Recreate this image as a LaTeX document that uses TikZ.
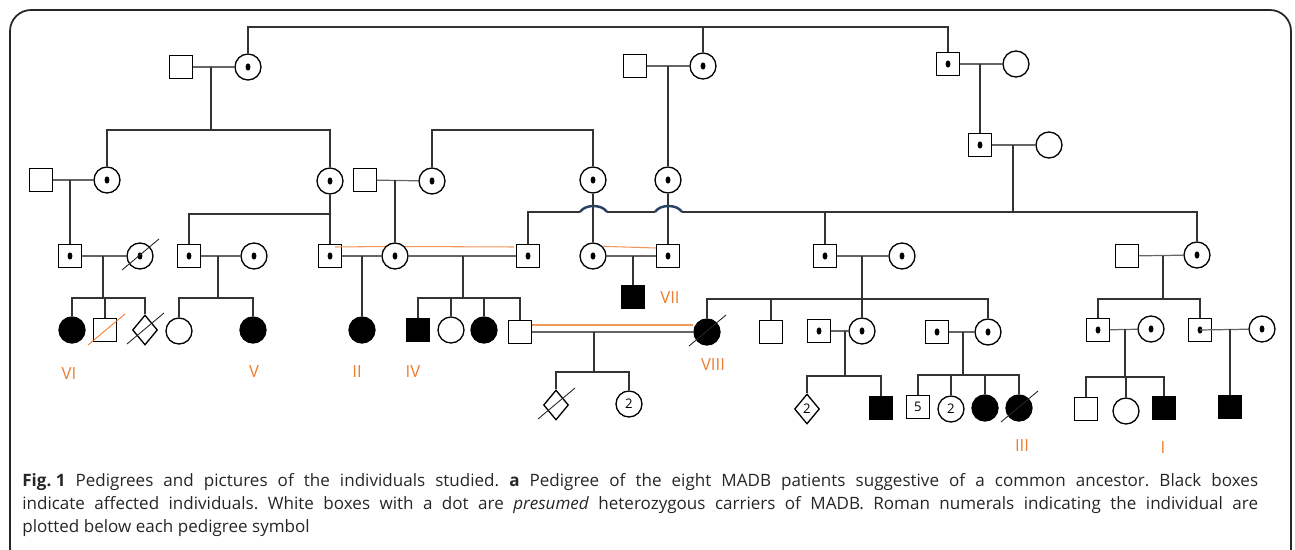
\documentclass[tikz,border=0pt]{standalone}
\usepackage{fontspec}
\setmainfont{Open Sans}
\setsansfont{Open Sans}
\usepackage{tikz}
\usetikzlibrary{shapes.geometric, positioning}
\definecolor{numcol}{RGB}{238,125,49}
\definecolor{hopcol}{RGB}{40,66,100}
\tikzset{
  person/.style={draw, line width=0.75pt, inner sep=0pt, fill=white, font=\fontsize{7.5}{8}\selectfont},
  male/.style={person, rectangle, minimum size=0.46cm},
  female/.style={person, circle, minimum size=0.52cm},
  unknown/.style={person, diamond, minimum width=0.5cm, minimum height=0.6cm},
  carrier/.style={path picture={\fill [black] (path picture bounding box.center) ellipse [x radius=1.4pt, y radius=2.05pt];}},
  affected/.style={fill=black},
  numeral/.style={text=numcol, font=\fontsize{9.5}{10}\selectfont},
  link/.style={draw=black!80, line width=0.6pt},
  mate/.style={draw=black!60, line width=0.7pt},
  consang/.style={draw=numcol!80, line width=0.6pt},
  hop/.style={draw=hopcol, line width=1.4pt},
  captext/.style={anchor=base west, inner sep=0pt, text=black!85, font=\fontsize{9.7}{12}\selectfont\frenchspacing}
}

\begin{document}
\begin{tikzpicture} [x = 0.02cm, y = -0.02cm, font = \sffamily]
\useasboundingbox (0,0) rectangle (1295,550);
\draw [line width=1pt, black!85, rounded corners=12] (10,552) -- (10,10) -- (1291,10) -- (1291,552);

% generation I
\node (A1) [male] at (181,67) {};
\node (A2) [female, carrier] at (248,67) {};
\node (B1) [male] at (635,66) {};
\node (B2) [female, carrier] at (703,66) {};
\node (C1) [male, carrier] at (948,64) {};
\node (C2) [female] at (1016,64) {};
\node (C3) [male, carrier] at (980,145) {};
\node (C4) [female] at (1049,145) {};

% generation II
\node (D1) [male] at (41,180) {};
\node (D2) [female, carrier] at (107,180) {};
\node (D3) [female, carrier] at (330,181) {};
\node (D4) [male] at (365,180) {};
\node (D5) [female, carrier] at (432,181) {};
\node (D6) [female, carrier] at (593,180) {};
\node (B3) [female, carrier] at (668,180) {};

% generation III
\node (E1) [male, carrier] at (70,256) {};
\node (E2) [female, carrier] at (140,256) {};
\node (E3) [male, carrier] at (189,256) {};
\node (E3w) [female, carrier] at (254,256) {};
\node (E4) [male, carrier] at (330,256) {};
\node (E4w) [female, carrier] at (395,256) {};
\node (E5) [male, carrier] at (528,256) {};
\node (E6) [female, carrier] at (593,256) {};
\node (E7) [male, carrier] at (668,256) {};
\node (E8) [male, carrier] at (825,256) {};
\node (E8w) [female, carrier] at (902,256) {};
\node (E10) [male] at (1127,256) {};
\node (E11) [female, carrier] at (1197,255) {};

% generation IV
\node (F1) [female, affected] at (72,330) {};
\node (F2) [male] at (105,330) {};
\node (F3) [unknown] at (145,330) {};
\node (F4) [female] at (179,331) {};
\node (F5) [female, affected] at (253,330) {};
\node (F6) [female, affected] at (362,330) {};
\node (G1) [male, affected] at (418,330) {};
\node (G2) [female] at (451,330) {};
\node (G3) [female, affected] at (484,330) {};
\node (G4) [male] at (520,332) {};
\node (VII) [male, affected] at (633,297) {};
\node (H1) [female, affected] at (707,332) {};
\node (H2) [male] at (771,332) {};
\node (H3) [male, carrier] at (819,331) {};
\node (H4) [female, carrier] at (862,331) {};
\node (H5) [male, carrier] at (937,332) {};
\node (H6) [female, carrier] at (988,332) {};
\node (J1) [male, carrier] at (1098,330) {};
\node (J2) [female, carrier] at (1151,329) {};
\node (K1) [male, carrier] at (1200,330) {};
\node (K2) [female, carrier] at (1262,329) {};

% generation V
\node (L1) [unknown] at (556,405) {};
\node (L2) [female] at (629,404) {2};
\node (M1) [unknown] at (807,409) {2};
\node (M2) [male, affected] at (881,408) {};
\node (N1) [male] at (918,407) {5};
\node (N2) [female] at (951,409) {2};
\node (N3) [female, affected] at (985,408) {};
\node (N4) [female, affected] at (1019,408) {};
\node (P1) [male] at (1086,409) {};
\node (P2) [female] at (1126,411) {};
\node (P3) [male, affected] at (1164,408) {};
\node (Q1) [male, affected] at (1230,407) {};

% junctions
\coordinate (top) at (703,27);
\coordinate (a12) at (211,67);   \coordinate (sa) at (211,130);
\coordinate (b12) at (668,66);
\coordinate (c12) at (980,64);
\coordinate (c34) at (1013,145); \coordinate (sc) at (1013,212);
\coordinate (d12) at (70,180);
\coordinate (d45) at (395,180);
\coordinate (sd) at (512,130);
\coordinate (sd3) at (330,214);
\coordinate (e12) at (103,256);  \coordinate (se12) at (103,298);
\coordinate (e3) at (218,256);   \coordinate (se3) at (218,298);
\coordinate (e4) at (362,256);
\coordinate (e45) at (463,256);  \coordinate (se45) at (463,298);
\coordinate (e67) at (633,256);
\coordinate (e8) at (862,256);   \coordinate (se8) at (862,299);
\coordinate (e10) at (1163,256); \coordinate (se10) at (1163,299);
\coordinate (gh) at (594,332);   \coordinate (sgh) at (594,372);
\coordinate (h34) at (845,331);  \coordinate (sh34) at (845,376);
\coordinate (h56) at (963,332);  \coordinate (sh56) at (963,375);
\coordinate (j12) at (1125,329); \coordinate (sj) at (1125,377);
\coordinate (k12) at (1230,329);
\coordinate (h1a) at (580,212);  \coordinate (h1b) at (607,212);
\coordinate (h2a) at (655,212);  \coordinate (h2b) at (682,212);

% couples
\path [mate]
    (A1) edge (A2) (B1) edge (B2) (C1) edge (C2) (C3) edge (C4)
    (D1) edge (D2) (D4) edge (D5)
    (E1) edge (E2) (E3) edge (E3w) (E4) edge (E4w) (E4w) edge (E5)
    (E6) edge (E7) (E8) edge (E8w) (E10) edge (E11)
    (G4) edge (H1) (H3) edge (H4) (J1) edge (J2) (K1.center) edge (K2);
\path [mate, line width=1.1pt] (H5) edge (H6);
\path [consang]
    ([shift={(5,-9)}]E4.center) edge (E4w.136)
    (E4w.44) edge ([shift={(-14,-9)}]E5.center)
    (E6.45) edge ([shift={(-12,-8)}]E7.center)
    ([shift={(12,-7)}]G4.center) edge ([shift={(-14,-7)}]H1.center);

% descent
\path [link]
    (A2.north) |- (top) -| (C1.north)
    (top) edge (B2.north)
    (a12) edge (sa)
    (D2.north) |- (sa) -| (D3.north)
    (D5.north) |- (sd) -| (D6.north)
    (b12) edge (B3.north)
    (c12) edge (C3.north)
    (c34) edge (sc)
    (E5.north) |- (h1a) (h1b) -- (h2a) (h2b) -| (E11.north)
    (E8.north) edge (E8.north |- sc)
    (D6) edge (E6) (B3) edge (E7)
    (d12) edge (E1.north) (d45) edge (E4w.north)
    (D3) edge (E4) (E3.north) |- (sd3)
    (e12) edge (se12) (F1.north) |- (se12) -| (F3.north)
    (F2.north) edge (F2.north |- se12)
    (e3) edge (se3) (F4.north) |- (se3) -| (F5.north)
    (e4) edge (F6.north)
    (e45) edge (se45) (G1.north) |- (se45) -| (G4.north)
    (G2.north) edge (G2.north |- se45) (G3.north) edge (G3.north |- se45)
    (e67) edge (VII.north)
    (gh) edge (sgh) (L1.north) |- (sgh) -| (L2.north)
    (e8) edge (H4.north) (H1.north) |- (se8) -| (H6.north)
    (H2.north) edge (H2.north |- se8)
    (h34) edge (sh34) (M1.north) |- (sh34) -| (M2.north)
    (h56) edge (sh56) (N1.north) |- (sh56) -| (N4.north)
    (N2.north) edge (N2.north |- sh56) (N3.north) edge (N3.north |- sh56)
    (e10) edge (se10) (J1.north) |- (se10) -| (K1.north)
    (j12) edge (sj) (P1.north) |- (sj) -| (P3.north)
    (P2.north) edge (P2.north |- sj)
    (k12) edge (Q1.north);
\path [hop]
    (h1a) .. controls +(5,-8) and +(-5,-8) .. (h1b)
    (h2a) .. controls +(5,-8) and +(-5,-8) .. (h2b);

% deceased
\foreach \n in {E2, F3, H1, L1, N4}
    \draw [black!85, line width=0.5pt] ([shift={(-18,14)}]\n.center) -- ([shift={(19,-17)}]\n.center);
\draw [numcol, line width=0.5pt] ([shift={(-17,15)}]F2.center) -- ([shift={(20,-16)}]F2.center);

% patients
\node (nVI) [numeral] at (69,374) {VI};
\node (nV) [numeral] at (254,372) {V};
\node (nII) [numeral] at (357,372) {II};
\node (nIV) [numeral] at (413,372) {IV};
\node (nVII) [numeral] at (670,298) {VII};
\node (nVIII) [numeral] at (713,365) {VIII};
\node (nIII) [numeral] at (1022,446) {III};
\node (nI) [numeral] at (1163,448) {I};

% caption
\node (cap1) [captext] at (22,486) {\makebox[24.72cm][s]{\mbox{\textbf{Fig. 1}} Pedigrees and pictures of the individuals studied. \textbf{a} Pedigree of the eight MADB patients suggestive of a common ancestor. Black boxes}};
\node (cap2) [captext] at (22,509) {\makebox[24.72cm][s]{indicate affected individuals. White boxes with a dot are \textit{presumed} heterozygous carriers of MADB. Roman numerals indicating the individual are}};
\node (cap3) [captext] at (22,532) {plotted below each pedigree symbol};
\end{tikzpicture}
\end{document}
